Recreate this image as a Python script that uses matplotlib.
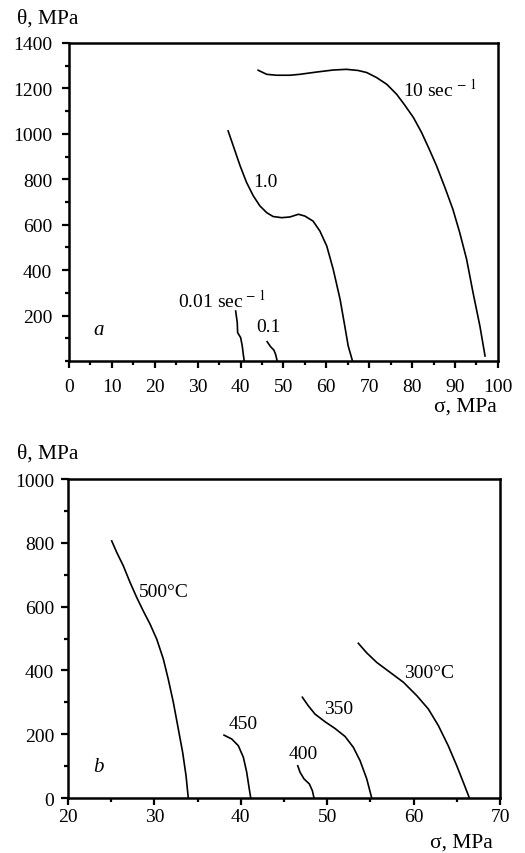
import matplotlib
matplotlib.use("Agg")
import matplotlib.pyplot as plt
from matplotlib.ticker import MultipleLocator

plt.rcParams['font.family'] = ['Liberation Serif', 'DejaVu Serif']
plt.rcParams['mathtext.fontset'] = 'stix'

# panel a: strain rate curves (sigma, theta)
r10_x = [44.1, 46.1, 48.4, 51.5, 53.8, 57.7, 61.6, 64.7, 67.4, 69.4, 71.7, 74.1, 76.4, 78.3, 80.3,
         82.2, 84.0, 85.7, 87.8, 89.5, 91.1, 92.7, 94.2, 95.8, 97.0]
r10_y = [1280, 1262, 1258, 1258, 1262, 1272, 1281, 1284, 1279, 1270, 1248, 1218, 1174, 1126, 1072,
         1006, 932, 859, 756, 668, 565, 448, 301, 154, 22]
r1_x = [37.1, 38.3, 39.9, 41.4, 42.97, 44.5, 46.1, 47.6, 49.6, 51.5, 53.5, 55.0, 56.9, 58.5,
        60.1, 61.6, 63.2, 64.3, 65.1, 66.1]
r1_y = [1013, 947, 859, 786, 727, 683, 653, 636, 631, 634, 646, 638, 616, 572,
        506, 404, 272, 154, 66, 0]
r001_x = [38.86, 39.23, 39.32, 40.02, 40.4, 40.63, 40.86]
r001_y = [220, 169, 125, 103, 66, 30, 0]
r01_x = [46.2, 47.0, 47.77, 48.16, 48.54]
r01_y = [85, 63, 48, 30, 0]

# panel b: temperature curves
t500_x = [25.06, 25.64, 26.4, 27.18, 27.95, 28.7, 29.5, 30.27, 31.03, 31.6, 32.19, 32.77, 33.27, 33.66, 33.92]
t500_y = [806, 770, 728, 676, 629, 587, 545, 498, 436, 373, 300, 216, 143, 70, 0]
t450_x = [38.06, 38.95, 39.71, 40.29, 40.68, 40.98, 41.15]
t450_y = [197, 185, 164, 128, 81, 28, 0]
t400_x = [46.59, 46.85, 47.31, 47.93, 48.28, 48.47]
t400_y = [101, 81, 60, 44, 23, 0]
t350_x = [47.12, 47.81, 48.59, 49.75, 50.9, 52.06, 53.02, 53.8, 54.57, 55.15]
t350_y = [316, 289, 263, 239, 218, 193, 159, 117, 60, 0]
t300_x = [53.6, 54.57, 55.73, 57.27, 58.81, 60.36, 61.7, 62.86, 64.0, 64.99, 65.75, 66.45]
t300_y = [485, 455, 425, 394, 363, 321, 279, 227, 164, 101, 49, 0]

fs = 14
lfs = 15.5

fig = plt.figure(figsize=(5.25, 8.54), dpi=100)
ax1 = fig.add_axes([0.1314, 0.5761, 0.817, 0.3724])
ax2 = fig.add_axes([0.1295, 0.0644, 0.823, 0.3735])


def style(ax, xpad, ypad):
    for s in ax.spines.values():
        s.set_linewidth(1.8)
    ax.tick_params(which='both', direction='out', top=False, right=False,
                   labelsize=fs, width=1.6)
    ax.tick_params(which='major', length=5)
    ax.tick_params(which='minor', length=3)
    ax.tick_params(axis='x', which='major', pad=xpad)
    ax.tick_params(axis='y', which='major', pad=ypad)


# panel a
for xs, ys in [(r10_x, r10_y), (r1_x, r1_y), (r001_x, r001_y), (r01_x, r01_y)]:
    ax1.plot(xs, ys, color='black', lw=1.2)
ax1.set_xlim(0, 100)
ax1.set_ylim(0, 1400)
ax1.set_xticks(range(0, 101, 10))
ax1.set_yticks(range(200, 1401, 200))
ax1.xaxis.set_minor_locator(MultipleLocator(5))
ax1.yaxis.set_minor_locator(MultipleLocator(100))
style(ax1, 7, 7)
ax1.text(77.8, 1198, r'10 sec$^{\,-\,1}$', fontsize=fs, va='center')
ax1.text(45.8, 792, '1.0', fontsize=fs, ha='center', va='center')
ax1.text(25.5, 271, r'0.01 sec$^{\,-\,1}$', fontsize=fs, va='center')
ax1.text(46.5, 152, '0.1', fontsize=fs, ha='center', va='center')
ax1.text(6.8, 138, 'a', fontsize=fs + 1, style='italic', ha='center', va='center')
fig.text(17 / 525, 1 - 24 / 854, 'θ, MPa', fontsize=lfs, ha='left', va='baseline')
fig.text(497 / 525, 1 - 412 / 854, 'σ, MPa', fontsize=lfs, ha='right', va='baseline')

# panel b
for xs, ys in [(t500_x, t500_y), (t450_x, t450_y), (t400_x, t400_y),
               (t350_x, t350_y), (t300_x, t300_y)]:
    ax2.plot(xs, ys, color='black', lw=1.2)
ax2.set_xlim(20, 70)
ax2.set_ylim(0, 1000)
ax2.set_xticks(range(20, 71, 10))
ax2.set_yticks(range(0, 1001, 200))
ax2.xaxis.set_minor_locator(MultipleLocator(5))
ax2.yaxis.set_minor_locator(MultipleLocator(100))
style(ax2, 2, 5)
ax2.text(28.16, 646, '500°C', fontsize=fs, va='center')
ax2.text(58.9, 392, '300°C', fontsize=fs, va='center')
ax2.text(49.6, 282, '350', fontsize=fs, va='center')
ax2.text(38.6, 235, '450', fontsize=fs, va='center')
ax2.text(45.55, 140, '400', fontsize=fs, va='center')
ax2.text(23.5, 98, 'b', fontsize=fs + 1, style='italic', ha='center', va='center')
fig.text(17 / 525, 1 - 459 / 854, 'θ, MPa', fontsize=lfs, ha='left', va='baseline')
fig.text(493 / 525, 1 - 848 / 854, 'σ, MPa', fontsize=lfs, ha='right', va='baseline')

fig.savefig('out.png', dpi=100)
